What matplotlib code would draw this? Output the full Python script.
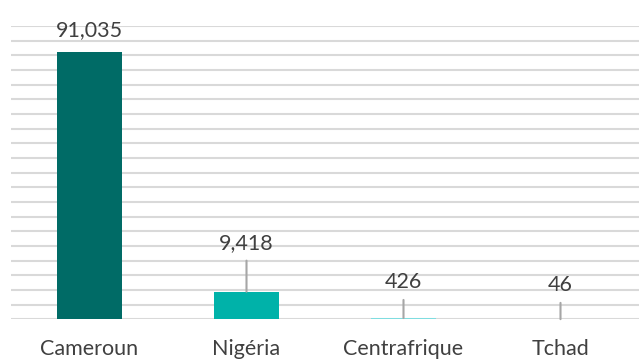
import matplotlib
matplotlib.use("Agg")
import matplotlib.pyplot as plt

categories = ["Cameroun", "Nigéria", "Centrafrique", "Tchad"]
values = [91035, 9418, 426, 46]
bar_colors = ["#006B66", "#00B2A9", "#7FDDE0", "#B8ECEE"]
# label heights (in data units) for callout-style labels; None = directly above bar
label_y = [None, 26000, 12600, 11600]

plt.rcParams["font.family"] = ["Lato", "DejaVu Sans"]
text_color = "#404040"

fig = plt.figure(figsize=(6.39, 3.6), dpi=100)
ax = fig.add_axes([11 / 639, 1 - 319.3 / 360, 628 / 639, (319.3 - 26) / 360])

x = range(len(categories))
ax.bar(x, values, width=0.41, color=bar_colors, zorder=3)

ax.set_ylim(0, 100000)
ax.set_xlim(-0.5, len(categories) - 0.5)
ax.set_yticks(range(0, 100001, 5000))
ax.yaxis.grid(True, color="#D9D9D9", linewidth=1.5, zorder=0)
ax.set_axisbelow(True)
ax.tick_params(axis="y", left=False, labelleft=False)
ax.tick_params(axis="x", bottom=False, labelsize=15.5, labelcolor=text_color, pad=11)
ax.set_xticks(list(x))
ax.set_xticklabels(categories)
for s in ax.spines.values():
    s.set_visible(False)

for i, (v, ly) in enumerate(zip(values, label_y)):
    txt = f"{v:,}"
    if ly is None:
        ax.annotate(txt, (i, v), xytext=(0, 9), textcoords="offset points",
                    ha="center", va="bottom", fontsize=15.5, color=text_color)
    else:
        ax.text(i, ly, txt, ha="center", va="center", fontsize=15.5, color=text_color, zorder=4)
        ax.annotate("", xy=(i, v), xytext=(i, ly - 6000),
                    arrowprops=dict(arrowstyle="-", color="#A6A6A6", lw=1.5,
                                    shrinkA=0, shrinkB=0), zorder=4)

fig.savefig("out.png", dpi=100)
